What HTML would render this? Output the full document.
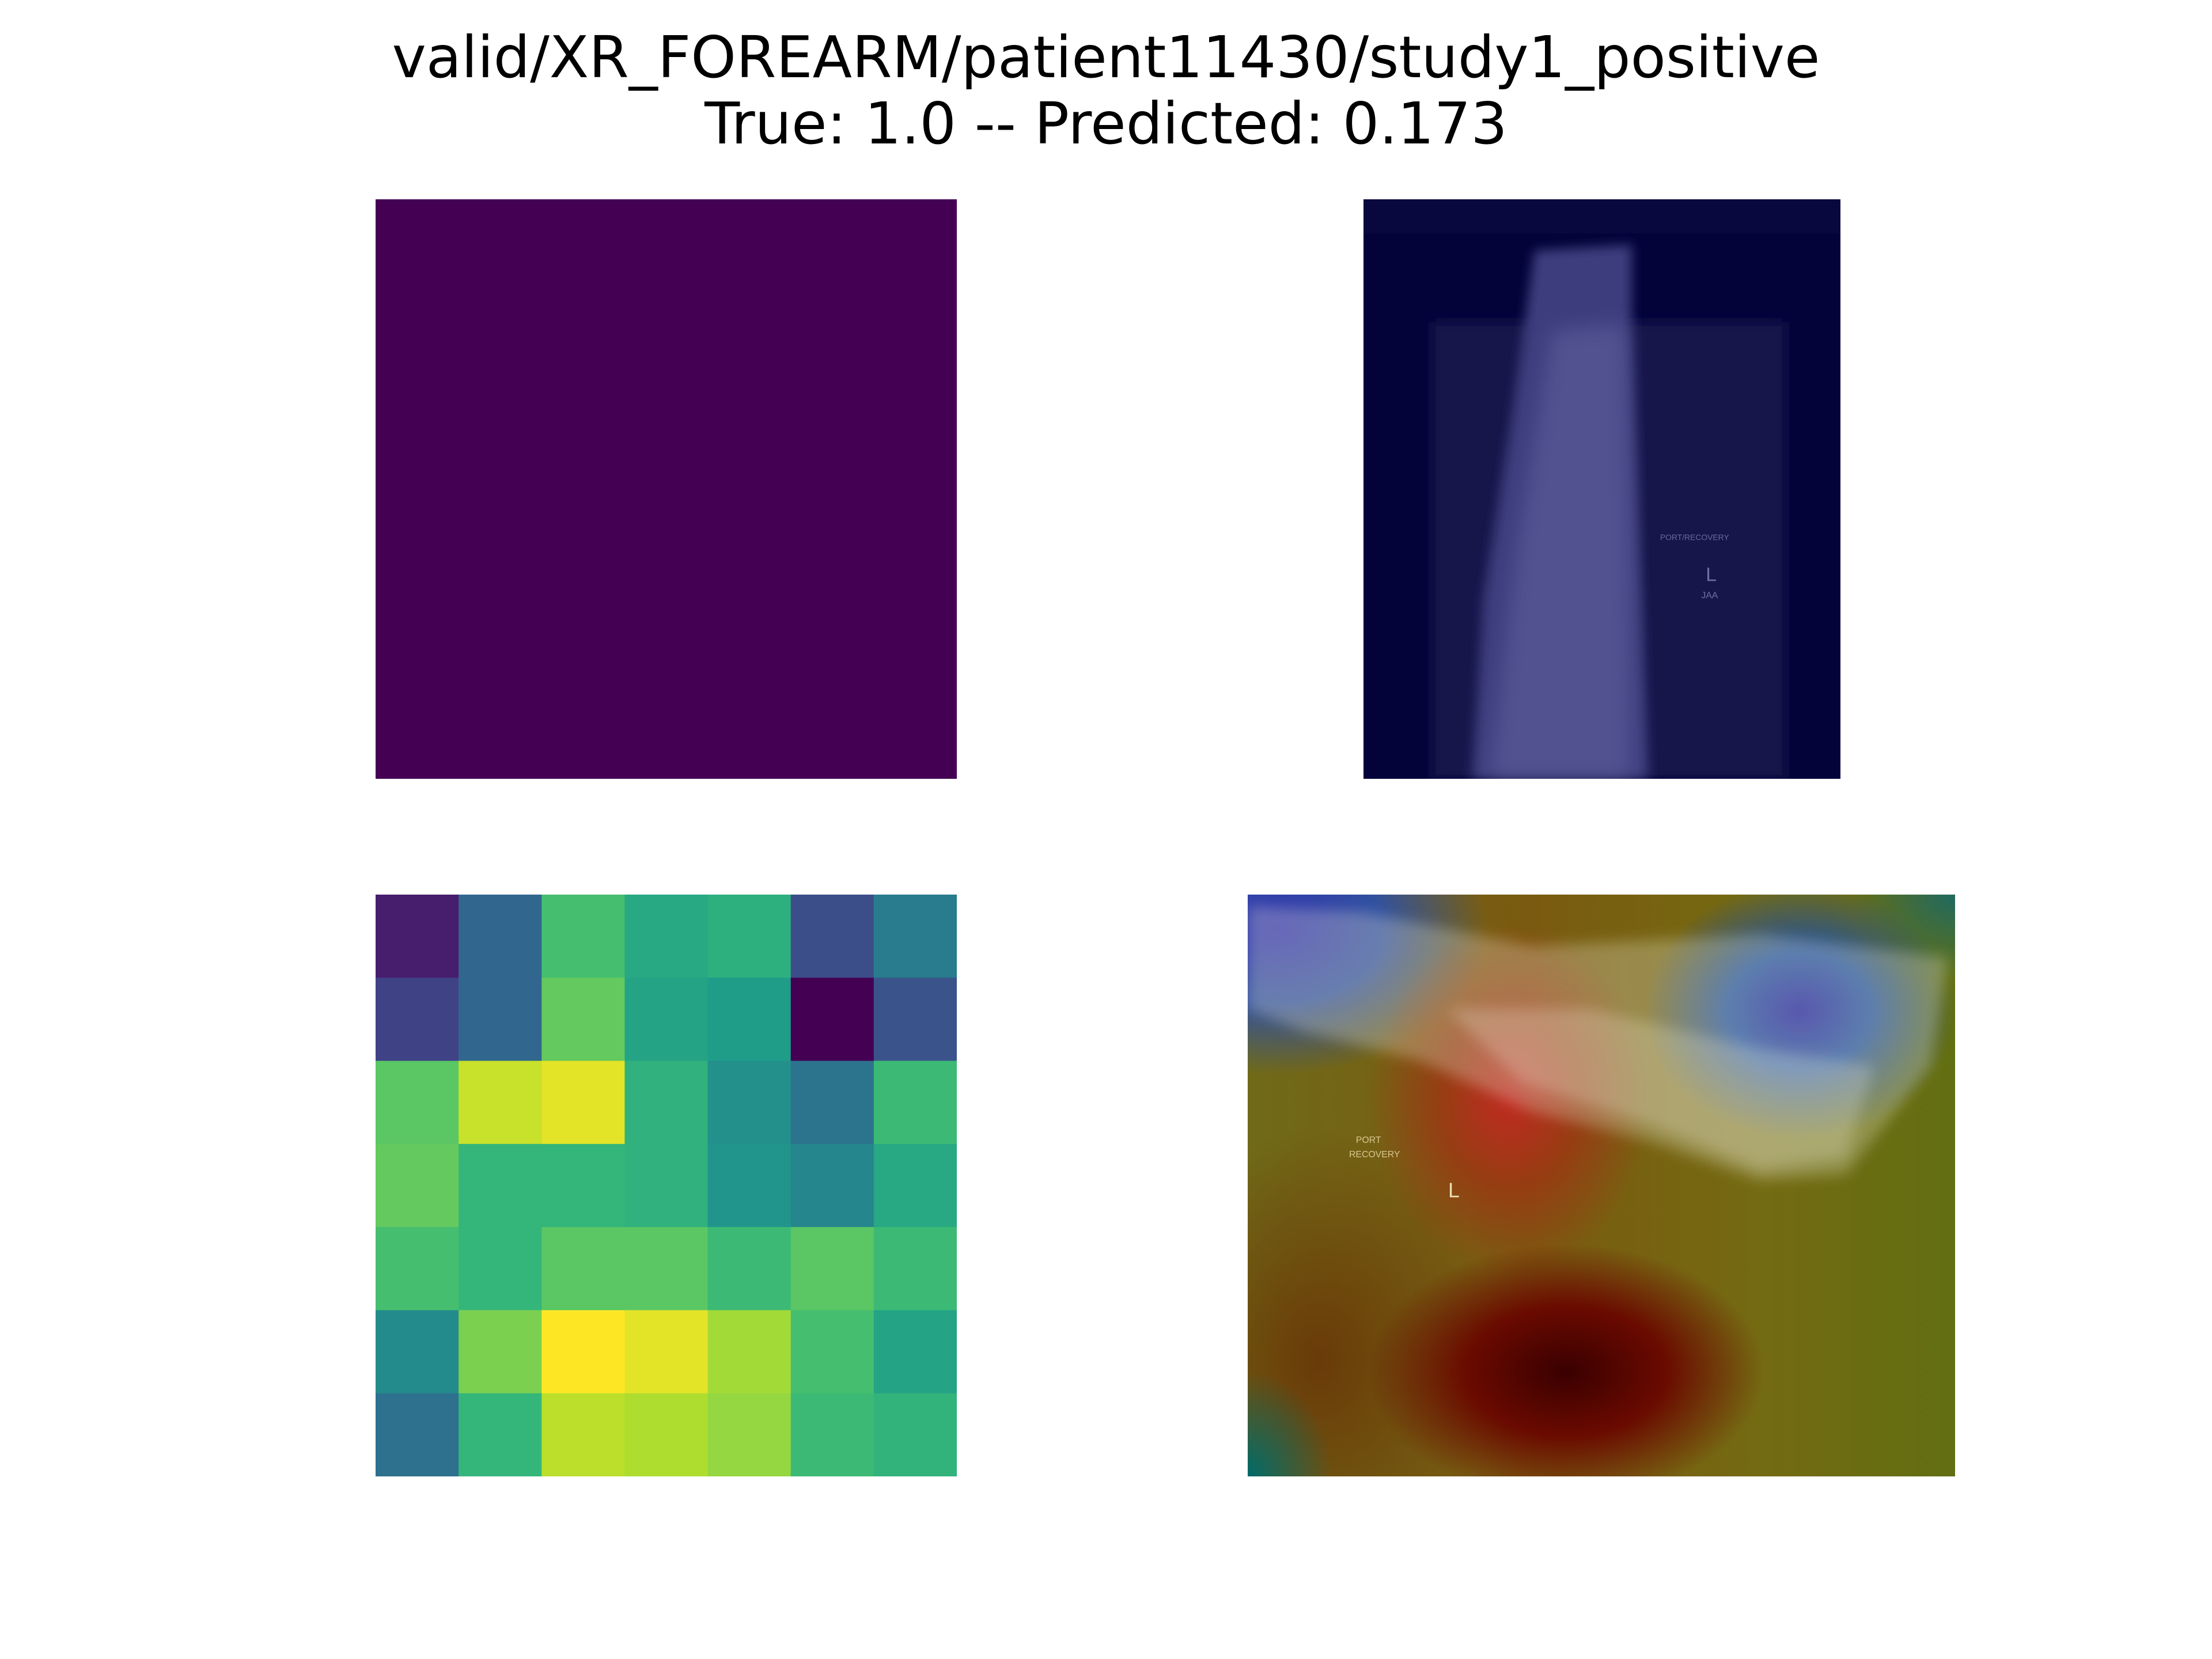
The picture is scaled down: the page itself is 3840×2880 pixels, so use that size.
<!DOCTYPE html>
<html><head><meta charset="utf-8">
<style>
html,body{margin:0;padding:0;background:#fff;}
body{width:3840px;height:2880px;position:relative;overflow:hidden;font-family:"Liberation Sans","DejaVu Sans",sans-serif;}
.title{position:absolute;left:0;width:3840px;text-align:center;font-family:"DejaVu Sans","Liberation Sans",sans-serif;font-size:100px;color:#000;line-height:1;}
.panel{position:absolute;}
</style></head>
<body>
<div class="title" style="top:50px;">valid/XR_FOREARM/patient11430/study1_positive</div>
<div class="title" style="top:165px;">True: 1.0 -- Predicted: 0.173</div>

<div class="panel" style="left:652px;top:346px;width:1009px;height:1006px;background:#440154;"></div>

<svg class="panel" style="left:2367px;top:346px;" width="828" height="1006" viewBox="0 0 836 1017" preserveAspectRatio="none">
<defs><filter id="b1"><feGaussianBlur stdDeviation="10"/></filter><filter id="b2"><feGaussianBlur stdDeviation="18"/></filter></defs>
<rect width="836" height="1017" fill="#03033a"/>
<rect y="0" width="836" height="60" fill="#08083e"/>
<rect x="120" y="215" width="620" height="802" fill="#12124c" filter="url(#b1)"/>
<polygon points="300,90 470,80 470,240 480,500 500,1017 190,1017 210,700 260,380" fill="#3e3e7e" filter="url(#b1)"/>
<polygon points="330,230 460,220 465,500 470,1017 220,1017 270,600" fill="#5c5c98" opacity="0.7" filter="url(#b2)"/>
<text x="520" y="598" font-size="14" fill="#6a6aa0" font-family="Liberation Sans">PORT/RECOVERY</text>
<text x="600" y="670" font-size="34" fill="#7070a8" font-family="Liberation Sans">L</text>
<text x="592" y="700" font-size="16" fill="#7070a8" font-family="Liberation Sans">JAA</text>
</svg>

<svg class="panel" id="heat" style="left:652px;top:1553px;" width="1009" height="1010"></svg>

<div class="panel" style="left:2166px;top:1553px;width:1228px;height:1010px;overflow:hidden;background:
radial-gradient(ellipse 28% 22% at 45% 82%, #3a0000 0%, #6a0a00 50%, rgba(120,20,0,0) 100%),
radial-gradient(ellipse 20% 30% at 37% 35%, #c02a20 0%, rgba(170,40,20,0.6) 50%, rgba(150,60,20,0) 100%),
radial-gradient(ellipse 22% 22% at 78% 20%, #1a1aa0 0%, #2050a0 45%, rgba(30,110,110,0) 100%),
radial-gradient(ellipse 30% 25% at 4% 6%, #3030b0 0%, #3050a0 50%, rgba(40,100,110,0) 100%),
radial-gradient(ellipse 12% 18% at 0% 100%, #006a6a 0%, rgba(0,100,100,0) 100%),
radial-gradient(ellipse 15% 15% at 100% 0%, #206a60 0%, rgba(30,100,90,0) 100%),
radial-gradient(ellipse 25% 40% at 10% 80%, #6a3a08 0%, rgba(100,60,10,0) 100%),
linear-gradient(90deg,#706a18 0%,#7a5a10 40%,#746a12 72%,#626e12 100%);">
<svg width="1228" height="1010" viewBox="0 0 1242 1019" preserveAspectRatio="none" style="position:absolute;left:0;top:0;">
<defs><filter id="b3"><feGaussianBlur stdDeviation="12"/></filter></defs>
<polygon points="0,20 200,30 500,90 900,70 1230,110 1200,300 1050,490 900,500 700,430 500,380 300,290 100,240 0,200" fill="#e8e8d0" opacity="0.3" filter="url(#b3)"/>
<polygon points="350,200 600,200 900,270 1100,300 1050,460 900,480 700,400 480,330" fill="#f0f0e0" opacity="0.25" filter="url(#b3)"/>
<text x="190" y="435" font-size="16" fill="#d8c890" font-family="Liberation Sans">PORT</text>
<text x="178" y="460" font-size="16" fill="#d8c890" font-family="Liberation Sans">RECOVERY</text>
<text x="352" y="530" font-size="36" fill="#e8e0b0" font-family="Liberation Sans">L</text>
</svg>
</div>

<script>
const heatRows = 7;
const heatCols = 7;
const heatValues = [
 [0.08,0.33,0.70,0.60,0.63,0.24,0.42],
 [0.20,0.33,0.76,0.58,0.55,0.00,0.26],
 [0.74,0.92,0.96,0.64,0.50,0.38,0.68],
 [0.76,0.66,0.66,0.64,0.52,0.46,0.60],
 [0.70,0.66,0.74,0.74,0.68,0.74,0.68],
 [0.48,0.80,1.00,0.96,0.86,0.70,0.58],
 [0.37,0.66,0.90,0.88,0.84,0.68,0.65]
];
const vir=[[68,1,84],[72,40,120],[62,73,137],[49,104,142],[38,130,142],[31,158,137],[53,183,121],[109,205,89],[180,222,44],[253,231,37]];
function viridis(t){t=Math.max(0,Math.min(1,t))*(vir.length-1);const i=Math.min(vir.length-2,Math.floor(t));const f=t-i;const a=vir[i],b=vir[i+1];return `rgb(${a.map((v,k)=>Math.round(v+(b[k]-v)*f)).join(',')})`;}
const svg=document.getElementById('heat');
const W=1009,H=1010;
const xs=c=>c*W/heatCols, ys=r=>r*H/heatRows;
heatValues.forEach((row,r)=>row.forEach((v,c)=>{
 const el=document.createElementNS('http://www.w3.org/2000/svg','rect');
 el.setAttribute('x',xs(c));el.setAttribute('y',ys(r));
 el.setAttribute('width',xs(c+1)-xs(c)+0.5);el.setAttribute('height',ys(r+1)-ys(r)+0.5);
 el.setAttribute('fill',viridis(v));
 
 
 svg.appendChild(el);
}));
</script>
</body></html>
